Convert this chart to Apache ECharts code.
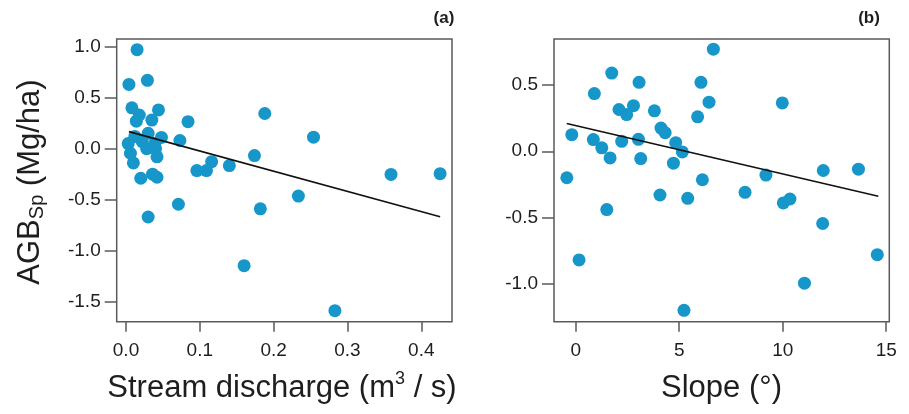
<!DOCTYPE html>
<html>
<head>
<meta charset="utf-8">
<script src="https://cdn.jsdelivr.net/npm/echarts@6/dist/echarts.min.js"></script>
<style>
  html, body { margin: 0; padding: 0; background: #fff; }
  #chart { width: 909px; height: 414px; }
</style>
</head>
<body>
<div id="chart"></div>
<script>
// Panel (a): AGB residuals vs. stream discharge (m3/s)
const dischargeX = [0.015, 0.004, 0.029, 0.008, 0.014, 0.035, 0.044, 0.084, 0.012, 0.030, 0.048, 0.073,
  0.006, 0.010, 0.028, 0.040, 0.042, 0.020, 0.036, 0.042, 0.188, 0.254, 0.096, 0.109, 0.116, 0.140,
  0.174, 0.2335, 0.071, 0.182, 0.030, 0.359, 0.4255, 0.160, 0.283, 0.018, 0.003, 0.039, 0.022];
const dischargeY = [0.97, 0.63, 0.67, 0.40, 0.27, 0.28, 0.38, 0.265, 0.12, 0.15, 0.11, 0.08,
  -0.045, -0.14, 0.00, 0.00, -0.08, -0.29, -0.25, -0.28, 0.345, 0.113, -0.215, -0.215, -0.127, -0.166,
  -0.068, -0.465, -0.545, -0.59, -0.67, -0.252, -0.245, -1.147, -1.588, 0.33, 0.05, 0.05, 0.07];
// fitted trend line endpoints for panel (a)
const dischargeFitX = [0.004, 0.4255];
const dischargeFitY = [0.167, -0.667];

// Panel (b): AGB residuals vs. slope (degrees)
const slopeX = [6.65, 1.74, 3.06, 6.05, 0.90, 6.44, 9.98, 2.09, 2.79, 2.46, 3.80, 5.89, 4.12, 4.32,
  -0.19, 0.85, 2.22, 3.03, 1.26, 4.83, 5.15, 1.66, 3.14, 4.72, -0.43, 6.12, 9.19, 11.96, 13.66, 4.07,
  5.41, 8.18, 10.03, 10.35, 1.50, 11.93, 14.57, 0.16, 11.05, 5.23];
const slopeY = [0.77, 0.59, 0.52, 0.52, 0.435, 0.37, 0.365, 0.315, 0.344, 0.277, 0.305, 0.26, 0.175, 0.14,
  0.125, 0.088, 0.075, 0.09, 0.026, 0.065, -0.005, -0.05, -0.055, -0.09, -0.20, -0.215, -0.18, -0.145,
  -0.135, -0.33, -0.355, -0.31, -0.39, -0.36, -0.44, -0.545, -0.78, -0.82, -0.995, -1.20];
// fitted trend line endpoints for panel (b)
const slopeFitX = [-0.435, 14.62];
const slopeFitY = [0.209, -0.339];

// Tick positions
const dischargeTicks = [0, 0.1, 0.2, 0.3, 0.4];
const dischargeYTicks = [1.0, 0.5, 0.0, -0.5, -1.0, -1.5];
const slopeTicks = [0, 5, 10, 15];
const slopeYTicks = [0.5, 0.0, -0.5, -1.0];

const pairs = (xs, ys) => xs.map((x, i) => [x, ys[i]]);

const DOT = '#1696c9';
const FRAME = '#5a5a5a';
const TEXT = '#1e1e1e';
const FONT = 'Liberation Sans, Arial, sans-serif';

function xAxisCfg(gridIndex, min, max, ticks, fmt) {
  return {
    type: 'value', gridIndex, min, max, position: 'bottom',
    axisLine: { show: false, onZero: false },
    splitLine: { show: false },
    axisTick: { show: true, length: 10, customValues: ticks, lineStyle: { color: FRAME, width: 1.5 } },
    axisLabel: { customValues: ticks, formatter: fmt, margin: 20, fontSize: 19, color: TEXT, fontFamily: FONT }
  };
}
function yAxisCfg(gridIndex, min, max, ticks) {
  return {
    type: 'value', gridIndex, min, max, position: 'left',
    axisLine: { show: false, onZero: false },
    splitLine: { show: false },
    axisTick: { show: true, length: 12, customValues: ticks, lineStyle: { color: FRAME, width: 1.5 } },
    axisLabel: { customValues: ticks, formatter: v => v.toFixed(1), margin: 16, fontSize: 19, color: TEXT, fontFamily: FONT }
  };
}

const chart = echarts.init(document.getElementById('chart'), null, { renderer: 'canvas' });
chart.setOption({
  animation: false,
  backgroundColor: '#fff',
  grid: [
    { left: 116.7, top: 39, width: 335.3, height: 282.7, show: true, borderColor: FRAME, borderWidth: 1.5, backgroundColor: 'transparent' },
    { left: 554, top: 39, width: 335.3, height: 282.7, show: true, borderColor: FRAME, borderWidth: 1.5, backgroundColor: 'transparent' }
  ],
  xAxis: [
    xAxisCfg(0, -0.0126, 0.4416, dischargeTicks, v => v.toFixed(1)),
    xAxisCfg(1, -1.05, 15.15, slopeTicks, v => String(Math.round(v)))
  ],
  yAxis: [
    yAxisCfg(0, -1.696, 1.075, dischargeYTicks),
    yAxisCfg(1, -1.286, 0.847, slopeYTicks)
  ],
  series: [
    { type: 'scatter', xAxisIndex: 0, yAxisIndex: 0, data: pairs(dischargeX, dischargeY),
      symbolSize: 13, itemStyle: { color: DOT, opacity: 1 }, z: 2 },
    { type: 'line', xAxisIndex: 0, yAxisIndex: 0, data: pairs(dischargeFitX, dischargeFitY),
      symbol: 'none', lineStyle: { color: '#111', width: 1.6 }, z: 3 },
    { type: 'scatter', xAxisIndex: 1, yAxisIndex: 1, data: pairs(slopeX, slopeY),
      symbolSize: 13, itemStyle: { color: DOT, opacity: 1 }, z: 2 },
    { type: 'line', xAxisIndex: 1, yAxisIndex: 1, data: pairs(slopeFitX, slopeFitY),
      symbol: 'none', lineStyle: { color: '#111', width: 1.6 }, z: 3 }
  ],
  graphic: [
    { type: 'text', x: 444, y: 18, style: { text: '(a)', font: 'bold 17px ' + FONT, fill: TEXT, align: 'center', verticalAlign: 'middle' } },
    { type: 'text', x: 869, y: 18, style: { text: '(b)', font: 'bold 17px ' + FONT, fill: TEXT, align: 'center', verticalAlign: 'middle' } },
    { type: 'text', x: 30, y: 182, rotation: Math.PI / 2,
      style: {
        text: 'AGB{sub|Sp} (Mg/ha)', fontSize: 31, fontFamily: FONT, fill: TEXT, align: 'center', verticalAlign: 'middle',
        rich: { sub: { fontSize: 20, fontFamily: FONT, fill: TEXT, padding: [15, 0, 0, 0] } }
      } },
    { type: 'text', x: 282, y: 388,
      style: {
        text: 'Stream discharge (m{sup|3} / s)', fontSize: 31, fontFamily: FONT, fill: TEXT, align: 'center', verticalAlign: 'middle',
        rich: { sup: { fontSize: 18, fontFamily: FONT, fill: TEXT, padding: [0, 0, 17, 0] } }
      } },
    { type: 'text', x: 721.5, y: 388,
      style: { text: 'Slope (°)', fontSize: 31, fontFamily: FONT, fill: TEXT, align: 'center', verticalAlign: 'middle' } }
  ]
});
</script>
</body>
</html>
